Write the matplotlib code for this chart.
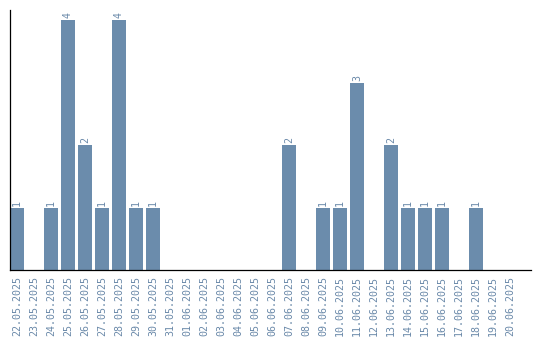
import matplotlib
matplotlib.use("Agg")
import matplotlib.pyplot as plt
import numpy as np

# daily counts
dates = ['22.05.2025', '23.05.2025', '24.05.2025', '25.05.2025', '26.05.2025',
         '27.05.2025', '28.05.2025', '29.05.2025', '30.05.2025', '31.05.2025',
         '01.06.2025', '02.06.2025', '03.06.2025', '04.06.2025', '05.06.2025',
         '06.06.2025', '07.06.2025', '08.06.2025', '09.06.2025', '10.06.2025',
         '11.06.2025', '12.06.2025', '13.06.2025', '14.06.2025', '15.06.2025',
         '16.06.2025', '17.06.2025', '18.06.2025', '19.06.2025', '20.06.2025']
counts = [1, 0, 1, 4, 2, 1, 4, 1, 1, 0,
          0, 0, 0, 0, 0, 0, 2, 0, 1, 1,
          3, 0, 2, 1, 1, 1, 0, 1, 0, 0]

bar_col = '#6b8cac'
txt_col = '#6a89a9'

fig = plt.figure(figsize=(5.4, 3.4), dpi=100)
ax = fig.add_axes([10/540, 70/340, 521/540, 260/340])

x = np.arange(len(dates))
bw = 14/17
ax.bar(x, counts, width=bw, align='edge', color=bar_col)

for xi, c in zip(x, counts):
    if c > 0:
        ax.text(xi + bw/2, c + 0.03, str(c), rotation=90, ha='center', va='bottom',
                color=txt_col, family='DejaVu Sans Mono', fontsize=7.2)

ax.set_xticks(x + bw/2)
ax.set_xticklabels(dates, rotation=90, family='DejaVu Sans Mono', fontsize=7.2, color=txt_col)
ax.tick_params(axis='x', length=0, pad=4)
ax.set_yticks([])
ax.set_xlim(0, 521/17)
ax.set_ylim(0, 4.16)
for s in ['top', 'right']:
    ax.spines[s].set_visible(False)
ax.spines['left'].set_linewidth(0.9)
ax.spines['bottom'].set_linewidth(0.9)

plt.savefig('out.png', dpi=100)
